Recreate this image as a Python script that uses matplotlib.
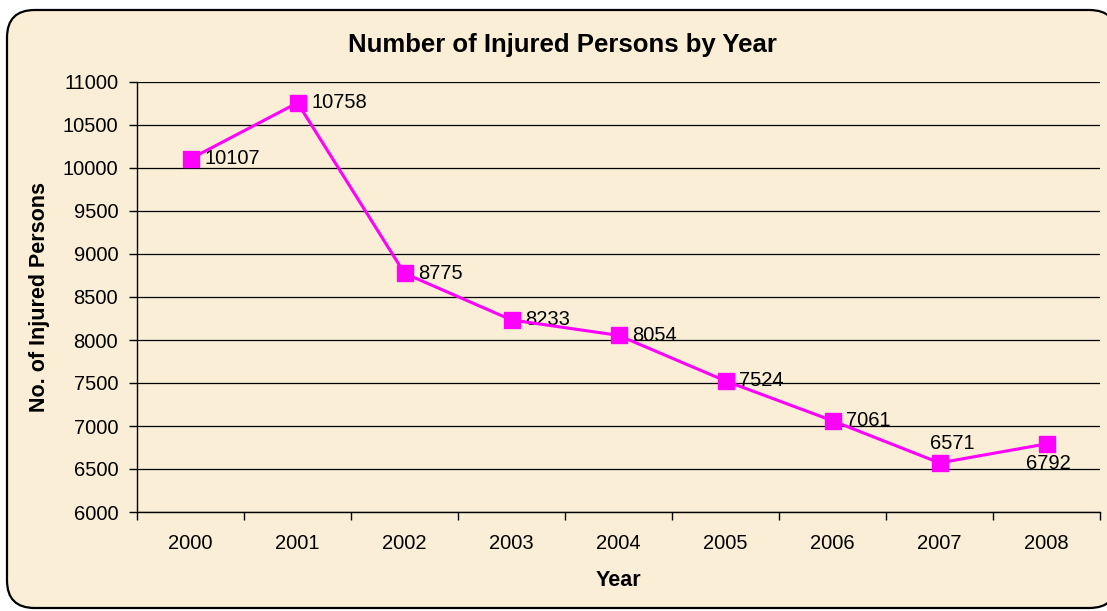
import matplotlib.pyplot as plt
from matplotlib.patches import FancyBboxPatch

plt.rcParams["font.family"] = ["Liberation Sans", "DejaVu Sans"]

# Data
years = ["2000", "2001", "2002", "2003", "2004", "2005", "2006", "2007", "2008"]
injured = [10107, 10758, 8775, 8233, 8054, 7524, 7061, 6571, 6792]
# label placement per point: "right", "above", "below"
label_pos = ["right", "right", "right", "right", "right", "right", "right", "above", "below"]
y_ticks = list(range(6000, 11001, 500))

bg = "#faefd6"
magenta = "#ff00ff"

fig = plt.figure(figsize=(11.07, 6.11), dpi=100)
fig.patch.set_facecolor("white")

# rounded chart-area frame
frame = FancyBboxPatch(
    (7 / 1107, 3 / 611), 1110 / 1107, 598 / 611,
    boxstyle="round,pad=0,rounding_size=0.025",
    transform=fig.transFigure, facecolor=bg, edgecolor="black",
    linewidth=1.6, mutation_aspect=1107 / 611, zorder=-5,
)
fig.patches.append(frame)

ax = fig.add_axes([137 / 1107, 1 - 512 / 611, 963 / 1107, 430 / 611])
ax.set_facecolor("none")

x = list(range(len(years)))
ax.plot(x, injured, color=magenta, linewidth=2.2, marker="s",
        markersize=11.5, markerfacecolor=magenta, markeredgecolor=magenta,
        zorder=5, clip_on=False)

fs = 14.5
for xi, v, pos in zip(x, injured, label_pos):
    if pos == "right":
        ax.annotate(str(v), (xi, v), xytext=(10, 0), textcoords="offset points",
                    ha="left", va="center", fontsize=fs)
    elif pos == "above":
        ax.annotate(str(v), (xi, v), xytext=(9, 7), textcoords="offset points",
                    ha="center", va="bottom", fontsize=fs)
    else:
        ax.annotate(str(v), (xi, v), xytext=(1, -7), textcoords="offset points",
                    ha="center", va="top", fontsize=fs)

ax.set_xlim(-0.5, len(years) - 0.5)
ax.set_ylim(6000, 11000)
ax.set_yticks(y_ticks)
ax.yaxis.grid(True, color="black", linewidth=0.9)
ax.set_axisbelow(True)

# category boundaries as major ticks, labels on minor ticks
ax.set_xticks([i - 0.5 for i in range(len(years) + 1)])
ax.set_xticklabels([])
ax.set_xticks(x, minor=True)
ax.set_xticklabels(years, minor=True)
ax.tick_params(axis="x", which="major", length=6, width=1, direction="out")
ax.tick_params(axis="x", which="minor", length=0, pad=16, labelsize=fs)
ax.tick_params(axis="y", length=6, width=1, direction="out", labelsize=fs, pad=7.5)

for s in ["top", "right"]:
    ax.spines[s].set_visible(False)
for s in ["left", "bottom"]:
    ax.spines[s].set_color("black")
    ax.spines[s].set_linewidth(1)

fig.text(562 / 1107, 1 - 45 / 611, "Number of Injured Persons by Year",
         fontsize=18.5, fontweight="bold", ha="center", va="center")
ax.set_xlabel("Year", fontsize=15.5, fontweight="bold", labelpad=12)
ax.set_ylabel("No. of Injured Persons", fontsize=15.5, fontweight="bold", labelpad=9)

fig.savefig("out.png", dpi=100, facecolor=fig.get_facecolor())
